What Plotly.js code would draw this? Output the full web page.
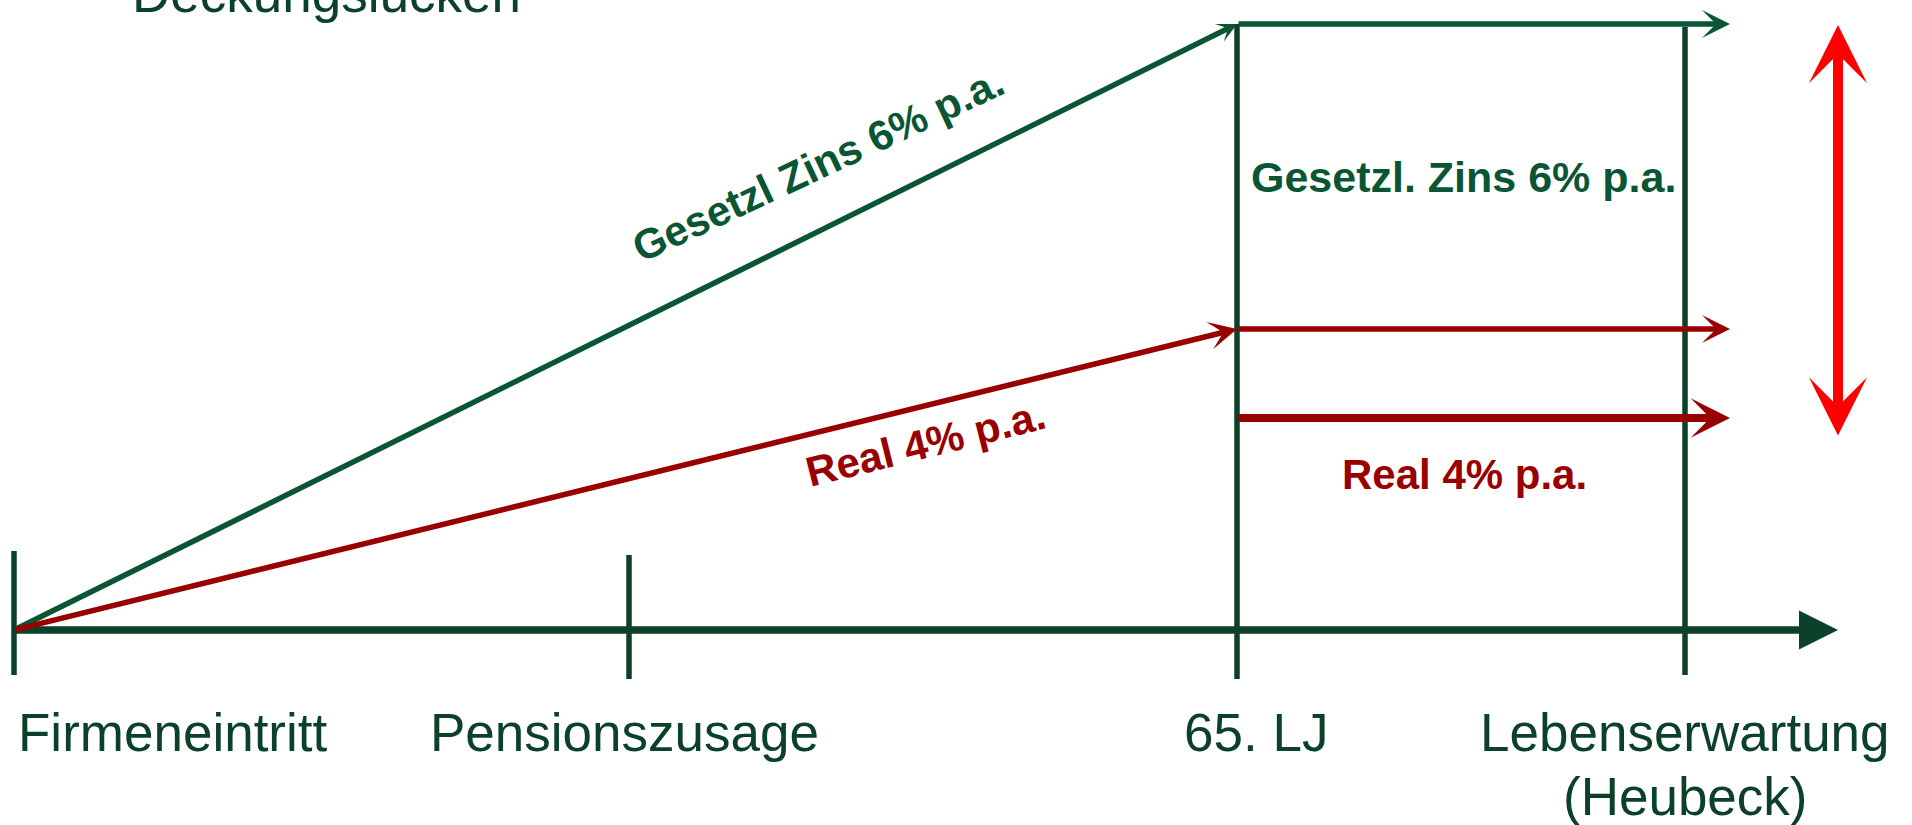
<!DOCTYPE html>
<html>
<head>
<meta charset="utf-8">
<script src="https://cdn.plot.ly/plotly-3.0.1.min.js"></script>
<style>
html,body{margin:0;padding:0;background:#ffffff;overflow:hidden}
#chart{width:1912px;height:825px}
</style>
</head>
<body>
<div id="chart"></div>
<script>
// ---------- data ----------
const chartTitle = 'Deckungslücken';
const milestoneLabels = ['Firmeneintritt', 'Pensionszusage', '65. LJ', 'Lebenserwartung<br>(Heubeck)'];
const milestoneTime = [14, 629, 1237, 1685];          // position along the time axis
const tickHigh = [79, 75, 606, 603];                  // upper end of each milestone marker
const tickLow = [-45, -49, -49, -45];                 // lower end of each milestone marker
const axisEnd = 1838;                                 // end of the time axis
const rateLabels = ['Gesetzl Zins 6% p.a.', 'Real 4% p.a.'];
const boxLabels = ['Gesetzl. Zins 6% p.a.', 'Real 4% p.a.'];
const reserveAt65 = [606, 301];                       // reserve reached at 65 (6% / 4%)
const pensionLevels = [606, 301, 212];                // pension levels after 65
const payoutEnd = 1730;                               // end of the payout arrows
const gapRange = [193, 605];                          // coverage gap (double arrow)

// ---------- styles ----------
const AXIS = '#0b4129';
const GREEN = '#0a5634';
const RED = '#990000';
const BRIGHT = '#ff0000';
const FONT = 'Liberation Sans, Arial, Helvetica, sans-serif';

const traces = [];
milestoneTime.forEach((t, i) => {
  traces.push({
    type: 'scatter', mode: 'lines',
    x: [t, t], y: [tickLow[i], tickHigh[i]],
    line: {color: AXIS, width: 5.5},
    hoverinfo: 'skip', showlegend: false
  });
});

function arrow(x0, y0, x1, y1, color, width, head, size, extra) {
  return Object.assign({
    xref: 'x', yref: 'y', axref: 'x', ayref: 'y',
    x: x1, y: y1, ax: x0, ay: y0,
    text: '', showarrow: true,
    arrowhead: head, arrowsize: size, arrowwidth: width, arrowcolor: color,
    standoff: 0, startstandoff: 0
  }, extra || {});
}

const annotations = [];
// time axis
annotations.push(arrow(milestoneTime[0], 0, axisEnd, 0, AXIS, 7.5, 2, 1.04));
// accumulation lines (6% and 4%)
annotations.push(arrow(milestoneTime[0], 0, milestoneTime[2], reserveAt65[0], GREEN, 5.5, 3, 0.6));
annotations.push(arrow(milestoneTime[0], 0, milestoneTime[2], reserveAt65[1], RED, 5.5, 3, 0.85));
// payout arrows
annotations.push(arrow(milestoneTime[2], pensionLevels[0], payoutEnd, pensionLevels[0], GREEN, 5.5, 3, 0.85));
annotations.push(arrow(milestoneTime[2], pensionLevels[1], payoutEnd, pensionLevels[1], RED, 5.5, 3, 0.85));
annotations.push(arrow(milestoneTime[2], pensionLevels[2], payoutEnd, pensionLevels[2], RED, 8, 3, 0.82));
// gap double arrow
annotations.push(arrow(axisEnd, gapRange[0], axisEnd, gapRange[1], BRIGHT, 10, 3, 0.97,
  {arrowside: 'end+start', startarrowhead: 3, startarrowsize: 0.97}));

// milestone labels
const labelY = [-102.6, -166.5];
milestoneLabels.forEach((lab, i) => {
  const centers = [173, 624, 1256, 1685];
  lab.split('<br>').forEach((line, j) => {
    annotations.push({
      xref: 'x', yref: 'y', x: centers[i], y: labelY[j],
      text: line, showarrow: false, xanchor: 'center', yanchor: 'middle',
      font: {family: FONT, size: 53, color: AXIS}
    });
  });
});

// rotated rate labels
annotations.push({
  xref: 'x', yref: 'y', x: 818, y: 466, text: '<b>' + rateLabels[0] + '</b>',
  showarrow: false, textangle: -25, xanchor: 'center', yanchor: 'middle',
  font: {family: FONT, size: 42, color: GREEN}
});
annotations.push({
  xref: 'x', yref: 'y', x: 925, y: 187, text: '<b>' + rateLabels[1] + '</b>',
  showarrow: false, textangle: -14, xanchor: 'center', yanchor: 'middle',
  font: {family: FONT, size: 42, color: RED}
});
// box labels
annotations.push({
  xref: 'x', yref: 'y', x: 1463, y: 453, text: '<b>' + boxLabels[0] + '</b>',
  showarrow: false, xanchor: 'center', yanchor: 'middle',
  font: {family: FONT, size: 43, color: GREEN}
});
annotations.push({
  xref: 'x', yref: 'y', x: 1464, y: 156, text: '<b>' + boxLabels[1] + '</b>',
  showarrow: false, xanchor: 'center', yanchor: 'middle',
  font: {family: FONT, size: 42, color: RED}
});
// title (cut off at top, as in the original slide)
annotations.push({
  xref: 'paper', yref: 'paper', x: 326 / 1912, y: 1 + 6.5 / 825,
  text: chartTitle, showarrow: false, xanchor: 'center', yanchor: 'middle',
  font: {family: FONT, size: 53, color: AXIS}
});

const layout = {
  width: 1912, height: 825,
  margin: {l: 0, r: 0, t: 0, b: 0, pad: 0},
  paper_bgcolor: '#ffffff', plot_bgcolor: '#ffffff',
  xaxis: {range: [0, 1912], visible: false, fixedrange: true},
  yaxis: {range: [-195, 630], visible: false, fixedrange: true},
  showlegend: false,
  font: {family: FONT},
  annotations: annotations
};

Plotly.newPlot('chart', traces, layout, {staticPlot: true, displayModeBar: false});
</script>
</body>
</html>
